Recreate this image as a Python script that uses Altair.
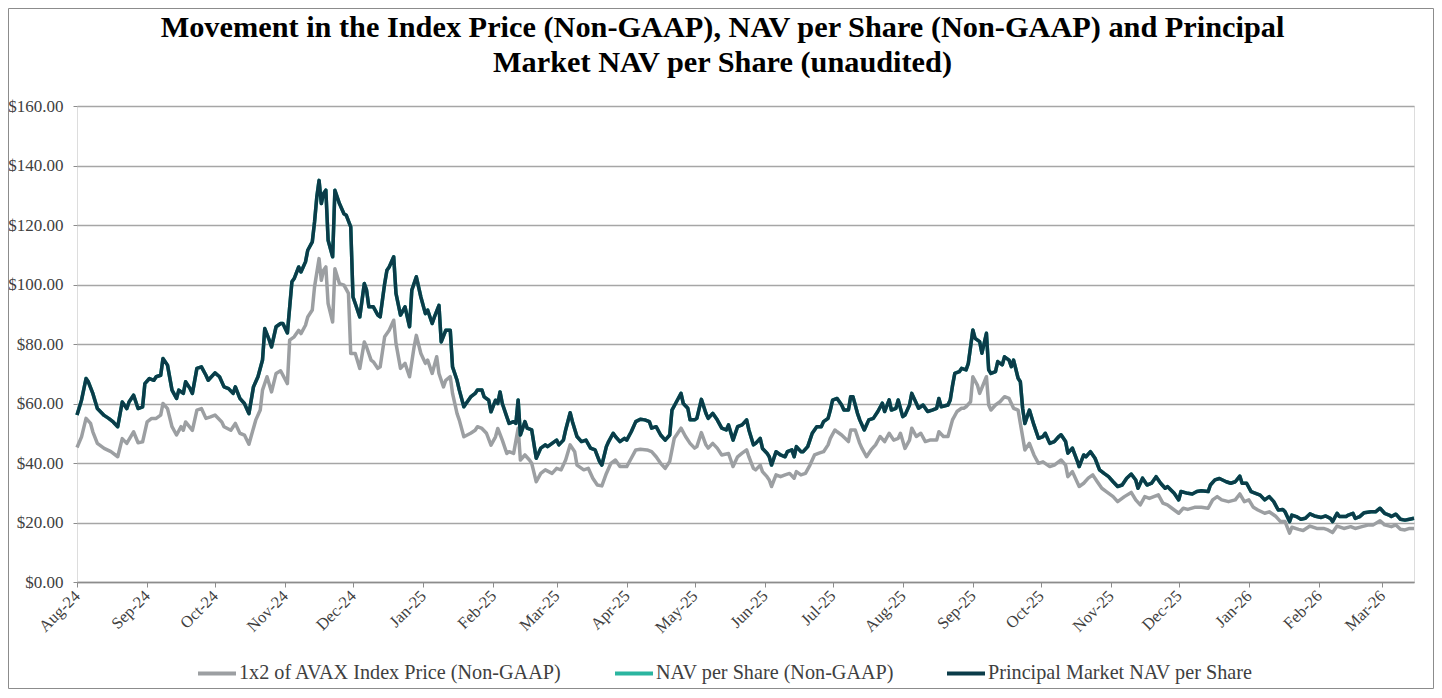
import altair as alt
import pandas as pd

title_lines = [
    "Movement in the Index Price (Non-GAAP), NAV per Share (Non-GAAP) and Principal",
    "Market NAV per Share (unaudited)",
]
series_names = [
    "1x2 of AVAX Index Price (Non-GAAP)",
    "NAV per Share (Non-GAAP)",
    "Principal Market NAV per Share",
]
series_colors = ["#9c9fa2", "#2bb5a0", "#0b3c49"]
start_date = "2024-08-01"   # day 0 of the day offsets below
y_ticks = [0, 20, 40, 60, 80, 100, 120, 140, 160]

# (days since 1 Aug 2024, value in $)
index_price = [
    (0,45.2),(2,48.8),(4,55.0),(6,53.3),(7,50.5),(9,46.6),(12,44.9),(15,43.8),(18,42.1),(20,48.2),(22,46.6),(25,50.5),(27,46.8),(29,47.1),(31,53.8),(33,55.0),(35,55.0),(37,56.1),(38,60.0),(40,58.3),(42,52.2),(44,49.4),(46,52.2),(47,51.0),(48,53.8),(51,51.0),(53,57.8),(55,58.3),(57,55.0),(59,55.5),(61,56.1),(64,53.8),(65,52.2),(68,51.0),(70,53.3),(72,50.0),(74,49.4),(76,46.3),(79,54.4),(81,57.8),(82,64.5),(84,69.0),(86,63.9),(88,70.1),(90,71.0),(93,66.7),(94,81.3),(96,82.4),
    (98,84.6),(99,83.5),(101,86.3),(102,89.1),(104,91.4),(105,99.2),(107,108.7),(108,101.4),(109,104.8),(110,105.9),(111,93.6),(113,87.4),(114,105.3),(116,100.3),(118,99.8),(120,97.0),(121,76.8),(123,76.8),(125,71.8),(127,80.7),(128,79.0),(130,74.6),(131,74.0),(133,71.8),(134,72.3),(136,82.4),(138,84.6),(140,88.0),(141,80.2),(143,71.8),(145,73.5),(147,69.0),(149,79.0),(150,82.9),(152,76.8),(154,73.5),(155,74.6),(157,70.1),(159,75.7),(160,70.1),(162,65.6),(163,67.8),(165,69.0),(166,63.4),(168,56.6),(169,54.4),(171,48.8),(174,50.0),(176,51.0),(177,52.2),(179,51.6),(181,50.0),(183,46.0),(185,48.8),(186,51.6),(188,47.7),(190,43.2),
    (191,43.8),(193,43.2),(195,51.7),(196,41.0),(198,42.7),(200,41.0),(201,39.9),(203,33.7),(205,36.5),(207,37.7),(210,36.5),(212,38.2),(214,37.7),(216,41.0),(218,46.1),(220,43.8),(221,39.3),(224,37.7),(226,38.2),(228,34.9),(230,32.6),(232,32.3),(234,36.5),(236,39.9),(238,41.0),(240,38.8),(243,38.8),(245,41.6),(247,44.4),(249,44.6),(252,44.4),(254,43.8),(256,42.1),(258,39.9),(260,38.2),(262,40.5),(264,48.3),(265,49.4),(267,51.7),(269,48.9),(271,46.6),(273,45.0),(274,45.5),(276,50.2),(278,46.1),(279,45.0),(281,46.6),(283,45.0),(285,42.7),(288,43.2),(289,41.0),
    (290,38.8),(292,42.1),(294,43.3),(296,44.4),(297,42.1),(299,38.2),(300,37.7),(302,39.3),(303,37.1),(305,35.4),(306,34.3),(307,32.1),(309,36.0),(311,35.4),(313,36.0),(315,36.5),(317,34.9),(318,37.1),(320,36.0),(322,36.5),(324,39.3),(326,42.7),(328,43.3),(330,43.8),(332,46.1),(333,48.3),(335,51.1),(336,50.5),(338,49.4),(341,47.2),(342,51.1),(344,51.1),(346,46.6),(347,44.9),(349,42.1),(351,44.4),(353,46.1),(355,48.9),(357,47.2),(359,50.0),(361,47.7),(363,48.3),(364,50.0),(366,44.9),(368,47.7),(369,51.7),(371,48.9),(373,50.0),(375,47.2),(377,47.7),(380,47.7),(381,50.5),(383,48.9),(385,48.9),(387,54.5),
    (389,57.3),(391,58.4),(392,58.4),(393,58.9),(395,60.6),(396,69.0),(398,66.2),(399,63.4),(402,69.0),(403,59.5),(404,57.8),(406,59.5),(408,60.6),(410,62.3),(412,61.7),(414,58.4),(416,57.8),(417,53.3),(419,44.4),(421,46.6),(423,42.7),(425,39.9),(427,40.4),(430,38.8),(432,39.3),(435,41.0),(437,39.3),(438,35.4),(440,37.1),(443,32.1),(445,33.2),(447,34.9),(449,36.0),(451,33.7),(453,31.5),(455,30.4),(458,28.7),(460,27.0),(463,28.7),(466,30.1),(468,27.6),(470,25.9),(472,28.7),(474,28.1),(478,29.3),(480,26.5),(482,25.9),(484,24.8),
    (487,23.1),(489,24.8),(491,24.4),(494,25.1),(497,25.1),(500,24.8),(502,27.6),(504,28.7),(506,27.6),(509,27.0),(512,27.6),(514,29.6),(516,27.0),(518,27.6),(520,25.1),(522,24.2),(525,23.1),(527,23.6),(530,22.0),(532,20.3),(534,20.3),(536,16.4),(537,18.4),(540,17.7),(542,17.3),(545,18.8),(548,18.0),(551,18.0),(553,17.5),(555,16.6),(557,18.8),(560,18.0),(563,18.6),(565,18.0),(568,18.6),(571,19.2),(573,19.2),(576,20.6),(578,19.2),(581,18.6),(583,19.2),(585,17.7),(587,17.5),(589,18.0),(591,18.0),
]

principal_nav = [
    (0,56.1),(2,61.1),(4,68.4),(5,67.3),(7,63.4),(9,58.3),(12,56.0),(14,55.0),(16,53.8),(18,52.2),(20,60.5),(22,58.3),(23,60.5),(25,62.8),(27,58.3),(29,58.9),(30,66.7),(32,68.4),(34,67.8),(35,69.0),(37,69.5),(38,75.1),(40,72.9),(42,64.5),(44,61.7),(45,64.5),(47,63.4),(48,67.3),(50,65.0),(51,63.4),(53,71.8),(55,72.3),(57,69.5),(58,67.8),(61,70.3),(63,69.0),(65,65.6),(67,65.0),(69,63.4),(70,65.6),(72,61.7),(74,60.0),(76,56.6),(78,65.6),(80,69.0),(82,74.6),(83,85.2),(85,81.3),(86,79.0),(88,85.8),(90,86.9),(91,86.9),(93,83.7),(95,100.9),(96,102.0),
    (98,105.9),(99,104.2),(101,107.6),(102,111.5),(104,114.3),(105,121.0),(106,129.4),(107,135.0),(108,127.2),(109,130.6),(110,131.7),(111,114.9),(113,109.3),(114,131.7),(116,127.2),(118,123.8),(119,123.3),(121,119.4),(122,95.8),(123,93.6),(125,89.1),(127,100.3),(128,98.1),(129,92.5),(131,92.5),(133,89.7),(134,89.1),(136,100.3),(137,104.8),(138,105.9),(140,109.3),(141,97.0),(143,89.7),(145,92.5),(147,85.8),(148,98.1),(150,102.6),(152,95.8),(154,90.2),(155,91.4),(157,86.9),(158,89.1),(160,93.0),(161,80.7),(163,84.6),(165,84.6),(166,72.3),(168,67.8),(169,64.5),(171,58.9),(174,62.2),(176,63.4),(177,64.5),(179,64.5),(180,62.2),(182,61.1),(183,57.2),(185,61.1),(186,60.0),(187,63.9),(188,60.0),(190,55.5),(191,53.3),
    (193,53.9),(194,53.3),(195,61.2),(196,49.4),(198,53.9),(199,51.7),(201,51.1),(203,41.6),(205,45.0),(207,46.1),(208,45.5),(210,46.6),(212,47.7),(213,46.1),(215,47.7),(216,51.1),(218,56.9),(219,53.9),(221,48.9),(223,47.2),(225,47.7),(227,45.0),(229,44.4),(231,40.5),(232,39.3),(234,45.5),(235,47.2),(237,50.0),(238,48.9),(240,47.2),(242,48.3),(243,47.7),(245,50.5),(247,53.9),(249,54.7),(251,54.5),(253,53.9),(254,51.7),(256,52.2),(258,49.4),(260,47.7),(262,49.4),(263,57.8),(265,60.6),(267,63.4),(268,60.0),(270,58.4),(271,54.5),(273,54.5),(274,55.0),(276,61.4),(278,56.7),(279,55.0),(281,56.7),(283,54.5),(285,51.7),(287,51.1),(288,52.8),
    (290,47.7),(292,52.2),(294,52.8),(296,54.5),(297,51.1),(299,46.1),(300,46.6),(302,48.3),(303,44.9),(305,43.3),(306,42.1),(307,39.3),(309,43.8),(311,42.7),(313,42.1),(314,43.8),(316,44.4),(317,42.1),(318,45.5),(320,43.8),(321,43.8),(323,45.5),(325,50.0),(327,52.2),(329,52.2),(330,53.9),(332,55.0),(333,57.8),(334,61.1),(336,61.7),(338,59.5),(339,57.8),(341,57.8),(342,62.3),(343,62.3),(345,56.7),(346,54.5),(348,51.1),(350,54.5),(352,55.0),(354,57.3),(356,60.1),(357,57.3),(359,61.2),(360,57.8),(362,58.4),(363,61.2),(365,55.6),(366,56.1),(368,59.5),(369,63.4),(371,60.1),(372,58.4),(374,59.5),(376,57.3),(378,57.8),(380,58.4),(381,61.7),(382,58.9),(385,59.5),(386,61.2),(387,66.0),
    (388,70.1),(390,70.7),(391,71.8),(393,71.3),(394,73.5),(396,84.7),(397,81.9),(399,80.8),(400,76.9),(402,83.6),(403,71.3),(404,70.1),(406,70.7),(407,74.1),(409,73.0),(410,75.7),(412,74.6),(413,72.4),(414,74.6),(416,68.5),(417,67.3),(418,58.4),(419,53.3),(421,57.8),(423,52.8),(425,48.3),(427,48.9),(428,50.0),(430,46.6),(432,47.2),(434,48.9),(435,49.5),(437,47.2),(438,43.3),(440,45.0),(442,41.0),(443,38.8),(445,42.7),(446,42.1),(448,43.8),(450,41.6),(452,37.7),(454,36.5),(456,35.4),(458,33.7),(460,32.1),(462,32.6),(464,34.9),(466,36.3),(468,34.3),(469,31.5),(471,34.9),(473,32.6),(475,33.2),(477,35.4),(479,33.2),(481,31.5),(482,32.1),
    (485,29.8),(487,27.6),(488,30.4),(491,29.8),(493,29.6),(495,30.4),(497,30.7),(500,30.4),(501,32.6),(503,34.3),(505,34.8),(508,33.7),(510,33.2),(512,33.7),(514,35.6),(515,33.2),(517,33.2),(519,30.4),(521,29.8),(523,29.2),(525,27.6),(527,28.7),(529,27.0),(531,24.2),(533,24.4),(534,23.6),(536,20.3),(537,22.5),(539,22.0),(541,21.1),(543,21.4),(545,22.9),(547,22.2),(550,21.7),(552,22.2),(554,21.4),(555,20.3),(557,23.1),(558,22.0),(561,22.0),(562,22.5),(564,23.1),(565,21.4),(567,22.0),(569,23.3),(572,23.6),(574,23.6),(576,24.8),(578,23.1),(580,22.5),(581,22.0),(583,22.8),(585,21.1),(587,20.8),(589,21.1),(591,21.4),
]

# In the picture the NAV per Share line lies directly under the Principal Market NAV line
nav_per_share = list(principal_nav)

base = pd.Timestamp(start_date)
rows = []
for name, pts in zip(series_names, [index_price, nav_per_share, principal_nav]):
    for d, v in pts:
        rows.append({"date": base + pd.Timedelta(days=d), "value": v, "series": name})
df = pd.DataFrame(rows)

W, H = 1337, 476
PAD = {"left": 69, "top": 98, "right": 20, "bottom": 107}
FONT = "Liberation Serif"

color = alt.Color(
    "series:N",
    title=None,
    scale=alt.Scale(domain=series_names, range=series_colors),
    legend=alt.Legend(
        orient="none", legendX=119, legendY=546, direction="horizontal",
        symbolType="stroke", symbolStrokeWidth=4, symbolSize=1444,
        labelFont=FONT, labelFontSize=20.2, labelColor="#404040", labelLimit=500,
        labelOffset=1, columnPadding=45, padding=0,
    ),
)

x = alt.X(
    "date:T", title=None,
    scale=alt.Scale(domain=[alt.DateTime(year=2024, month=8, date=1),
                            alt.DateTime(year=2026, month=3, date=15)]),
    axis=alt.Axis(format="%b-%y", tickCount={"interval": "month", "step": 1},
                  labelAngle=-45, labelAlign="right", labelBaseline="middle",
                  labelFont=FONT, labelFontSize=16.5, labelColor="#404040",
                  labelPadding=6, tickSize=5, tickColor="#8c8c8c",
                  domainColor="#8c8c8c", domainWidth=1.5, grid=False,
                  labelOverlap=False, labelFlush=False),
)
y = alt.Y(
    "value:Q", title=None,
    scale=alt.Scale(domain=[0, 160], nice=False, zero=True),
    axis=alt.Axis(values=y_ticks, format="$,.2f", labelFont=FONT, labelFontSize=17,
                  labelColor="#404040", labelPadding=10, tickSize=4,
                  tickColor="#8c8c8c", domain=False, grid=True,
                  gridColor="#a6a6a6", gridWidth=1.5),
)

base_chart = alt.Chart(df)
layers = []
for name in series_names:
    layers.append(
        base_chart.transform_filter(alt.datum.series == name)
        .mark_line(strokeWidth=3.5, strokeJoin="round")
        .encode(x=x, y=y, color=color)
    )

border = alt.Chart(pd.DataFrame({"a": [0]})).mark_rect(
    fillOpacity=0, stroke="#8c8c8c", strokeWidth=1, clip=False
).encode(
    x=alt.value(-PAD["left"] + 0.5), x2=alt.value(W + PAD["right"] - 0.5),
    y=alt.value(-PAD["top"] + 0.5), y2=alt.value(H + PAD["bottom"] - 0.5),
)

chart = alt.layer(*layers, border).properties(
    width=W, height=H,
    title=alt.TitleParams(text=title_lines, font=FONT, fontSize=30.3, fontWeight="bold",
                          color="#000000", anchor="middle", offset=-70, dx=-23,
                          lineHeight=35),
    padding=PAD,
    autosize=alt.AutoSizeParams(type="none"),
).configure_view(stroke=None).configure(background="white")

chart.save("out.html", embed_options={"renderer": "svg", "actions": False})
